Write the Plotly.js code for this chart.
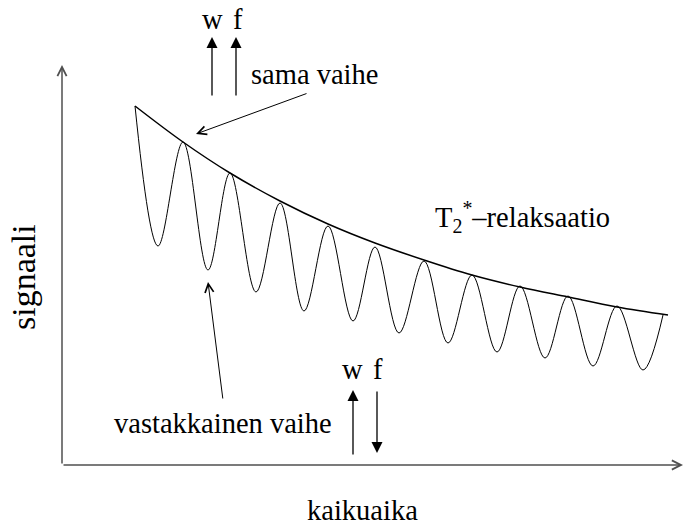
<!DOCTYPE html>
<html>
<head>
<meta charset="utf-8">
<script src="https://cdn.plot.ly/plotly-3.0.1.min.js"></script>
<style>html,body{margin:0;padding:0;background:#fff;}#chart{width:686px;height:525px;}</style>
</head>
<body>
<div id="chart"></div>
<script>
// Envelope (T2* relaxation)
var envelopeX = [7.3, 12.1, 16.8, 21.8, 26.6, 31.3, 36.2, 41.0, 45.8, 50.6, 55.5, 60.6];
var envelopeY = [35.9, 32.3, 29.2, 26.4, 24.1, 22.2, 20.5, 19.0, 17.8, 16.8, 15.8, 15.0];

// Oscillating signal: alternating peaks (same phase) and troughs (opposite phase)
var signalX = [7.3, 9.6, 12.1, 14.6, 16.8, 19.4, 21.8, 24.2, 26.6, 29.1, 31.3, 33.7,
               36.2, 38.6, 41.0, 43.5, 45.8, 48.3, 50.6, 53.1, 55.5, 58.1, 60.1];
var signalY = [35.9, 21.9, 32.3, 19.5, 29.2, 17.3, 26.2, 15.4, 23.9, 14.4, 21.8, 13.2,
               20.4, 12.2, 19.0, 11.3, 17.9, 10.7, 16.9, 9.9, 15.9, 9.5, 15.0];

var xLabel = 'kaikuaika';
var yLabel = 'signaali';
var envLabel = 'T<sub>2</sub><sup>*</sup>\u2013relaksaatio';
var samePhase = 'sama vaihe';
var oppPhase = 'vastakkainen vaihe';

var FONT = 'Liberation Serif, Times New Roman, serif';
var FS = 28.5;

var traces = [
  {x: signalX, y: signalY, mode: 'lines', line: {color: '#000', width: 1, shape: 'spline', smoothing: 1}, hoverinfo: 'skip'},
  {x: envelopeX, y: envelopeY, mode: 'lines', line: {color: '#000', width: 1.5, shape: 'spline', smoothing: 1}, hoverinfo: 'skip'}
];

function arrow(x0, y0, x1, y1, head, size, width, color) {
  return {x: x1, y: y1, ax: x0, ay: y0, xref: 'x', yref: 'y', axref: 'x', ayref: 'y',
    text: '', showarrow: true, arrowhead: head, arrowsize: size, arrowwidth: width,
    arrowcolor: color || '#000', standoff: 0, startstandoff: 0};
}
function label(x, y, t, opts) {
  var a = {x: x, y: y, xref: 'x', yref: 'y', text: t, showarrow: false,
    font: {family: FONT, size: FS, color: '#000'}, xanchor: 'center', yanchor: 'middle'};
  for (var k in (opts || {})) a[k] = opts[k];
  return a;
}

var annotations = [
  // axes
  arrow(0, 0, 0, 40, 5, 1.2, 1.5, '#505050'),
  arrow(0, 0, 62.1, 0, 5, 1.2, 1.5, '#505050'),
  // spin arrows (top: same phase)
  arrow(15.0, 36.8, 15.0, 42.8, 2, 1.7, 1.3),
  arrow(17.4, 36.8, 17.4, 42.8, 2, 1.7, 1.3),
  // spin arrows (bottom: opposite phase)
  arrow(29.1, 0.9, 29.1, 7.5, 2, 1.7, 1.3),
  arrow(31.5, 7.5, 31.5, 1.2, 2, 1.7, 1.3),
  // pointers
  arrow(24.6, 37.2, 13.4, 33.1, 5, 1.7, 1),
  arrow(16.1, 6.5, 14.6, 18.3, 5, 1.7, 1),
  // labels
  label(15.0, 44.6, 'w'),
  label(17.6, 44.6, 'f'),
  label(29.0, 9.6, 'w'),
  label(31.6, 9.6, 'f'),
  label(25.2, 39.1, samePhase),
  label(46.0, 24.8, envLabel),
  label(16.1, 4.2, oppPhase),
  {x: 0.482, y: -0.097, xref: 'paper', yref: 'paper', text: xLabel, showarrow: false,
   font: {family: FONT, size: FS, color: '#000'}, xanchor: 'center', yanchor: 'middle'},
  {x: -0.062, y: 0.405, xref: 'paper', yref: 'paper', text: yLabel, showarrow: false, textangle: -90,
   font: {family: FONT, size: 34, color: '#000'}, xanchor: 'center', yanchor: 'middle'}
];

var layout = {
  width: 686, height: 525,
  margin: {l: 62, r: 0, t: 0, b: 60, pad: 0},
  paper_bgcolor: '#fff', plot_bgcolor: '#fff',
  showlegend: false,
  xaxis: {range: [0, 62.4], showgrid: false, zeroline: false, showline: false, showticklabels: false, ticks: '', fixedrange: true},
  yaxis: {range: [0, 46.5], showgrid: false, zeroline: false, showline: false, showticklabels: false, ticks: '', fixedrange: true},
  annotations: annotations
};

Plotly.newPlot('chart', traces, layout, {displayModeBar: false, staticPlot: true});
</script>
</body>
</html>
